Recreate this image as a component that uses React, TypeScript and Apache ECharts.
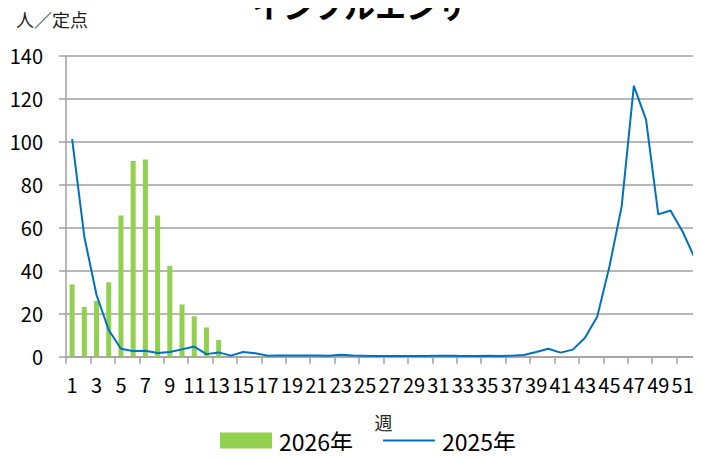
import React, { useEffect, useRef } from "react";
import * as echarts from "echarts";

const weeks: string[] = Array.from({ length: 52 }, (_, i) => String(i + 1));
const yTicks = [0, 20, 40, 60, 80, 100, 120, 140];

const series2026: (number | null)[] = [
  33.6, 23.1, 25.9, 34.6, 65.7, 91.0, 91.7, 65.7, 42.3, 24.3, 18.8, 13.6, 7.8,
];

const series2025: number[] = [
  101.2, 55.8, 28.7, 12.4, 3.7, 2.6, 2.8, 1.7, 2.2, 3.4, 4.7, 1.2, 2.0,
  0.5, 2.2, 1.6, 0.5, 0.6, 0.6, 0.6, 0.6, 0.4, 0.9, 0.6, 0.4, 0.3,
  0.3, 0.3, 0.3, 0.3, 0.5, 0.4, 0.3, 0.3, 0.4, 0.3, 0.5, 0.8, 2.2,
  3.7, 1.9, 3.3, 8.8, 18.6, 41.9, 69.8, 126.0, 110.3, 66.2, 68.0, 58.1, 45.7,
];

const FONT = "'Noto Sans CJK JP', 'Noto Sans', sans-serif";

export default function App() {
  const ref = useRef<HTMLDivElement>(null);
  useEffect(() => {
    if (!ref.current) return;
    const chart = echarts.init(ref.current, undefined, { renderer: "svg" });
    chart.setOption({
      animation: false,
      textStyle: { fontFamily: FONT },
      graphic: [
        {
          type: "text",
          x: 360,
          y: 4,
          style: {
            text: "インフルエンザ",
            fontFamily: FONT,
            fontSize: 31,
            fontWeight: "bold",
            fill: "#000",
            align: "center",
            verticalAlign: "middle",
          },
        },
        {
          type: "text",
          x: 16,
          y: 19,
          style: {
            text: "人／定点",
            fontFamily: FONT,
            fontSize: 18,
            fill: "#222",
            verticalAlign: "middle",
          },
        },
      ],
      grid: { left: 66, top: 55.7, width: 638, bottom: 102.3, containLabel: false },
      legend: {
        left: 215,
        top: 424,
        itemWidth: 52,
        itemHeight: 16,
        itemGap: 30,
        textStyle: { fontSize: 23, color: "#000", fontFamily: FONT, padding: [0, 0, 0, 2] },
        data: [
          { name: "2026年", icon: "rect" },
          { name: "2025年", icon: "path://M0,0 M0,7 L52,7 L52,9 L0,9 Z M52,16" },
        ],
      },
      xAxis: {
        type: "category",
        data: weeks,
        name: "週",
        nameLocation: "middle",
        nameGap: 56,
        nameTextStyle: { fontSize: 18, color: "#222", fontFamily: FONT },
        axisLine: { lineStyle: { color: "#a0a0a0", width: 1.5 } },
        axisTick: { show: true, length: 7, lineStyle: { color: "#a0a0a0", width: 1.5 } },
        axisLabel: { interval: 1, fontSize: 20, color: "#000", margin: 18, fontFamily: FONT },
      },
      yAxis: {
        type: "value",
        min: 0,
        max: 140,
        interval: 20,
        axisLine: { show: true, lineStyle: { color: "#a0a0a0", width: 1.5 } },
        axisTick: { show: true, length: 7, lineStyle: { color: "#a0a0a0", width: 1.5 } },
        axisLabel: {
          fontSize: 20,
          color: "#000",
          margin: 23,
          fontFamily: FONT,
          formatter: (v: number) => (yTicks.includes(v) ? String(v) : ""),
        },
        splitLine: { show: true, lineStyle: { color: "#a0a0a0", width: 1.5 } },
      },
      series: [
        {
          name: "2026年",
          type: "bar",
          data: series2026,
          barWidth: 5,
          itemStyle: { color: "#92d050" },
        },
        {
          name: "2025年",
          type: "line",
          data: series2025,
          symbol: "none",
          lineStyle: { color: "#0070c0", width: 2 },
          itemStyle: { color: "#0070c0" },
        },
      ],
    });
    return () => chart.dispose();
  }, []);
  return <div ref={ref} style={{ width: 701, height: 459, margin: -8 }} />;
}
